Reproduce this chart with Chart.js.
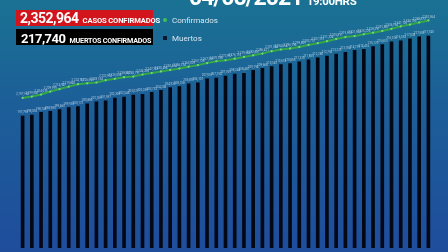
<!DOCTYPE html>
<html lang="es">
<head>
<meta charset="UTF-8">
<title>Casos y muertos confirmados</title>
<script src="https://cdn.jsdelivr.net/npm/chart.js@4.4.1/dist/chart.umd.min.js"></script>
<style>
    html, body { margin: 0; padding: 0; }
    body {
        width: 448px; height: 252px; overflow: hidden; position: relative;
        background: linear-gradient(to bottom, #1a7293 0%, #1c5f98 40%, #1f4d9c 100%);
        font-family: Roboto, "Liberation Sans", sans-serif;
    }
    #wrap { position: absolute; left: 0; top: 0; width: 448px; height: 252px; }
    .box { position: absolute; left: 16px; width: 137px; height: 16px; color: #fff; font-weight: bold; white-space: nowrap; }
    .box .big { font-size: 14px; letter-spacing: -0.5px; vertical-align: baseline; }
    .box .small { font-size: 7.6px; letter-spacing: -0.15px; }
    #casos { top: 10px; background: #d2141c; line-height: 16px; padding-left: 4px; box-sizing: border-box; }
    #muertos { top: 29px; background: #000; line-height: 17px; padding-left: 5px; box-sizing: border-box; }
    #muertos .big { font-size: 13px; }
    #muertos .small { font-size: 7.2px; letter-spacing: -0.2px; }
    .leg { position: absolute; left: 163px; font-size: 8px; color: #d7e6ef; white-space: nowrap; }
    .leg i { display: inline-block; width: 4px; height: 4px; margin-right: 5px; vertical-align: 1px; }
    #title { position: absolute; left: 189px; top: -16px; color: #fff; font-weight: bold; white-space: nowrap; }
    #title .d { font-size: 23px; letter-spacing: -0.9px; }
    #title .h { font-size: 11.5px; letter-spacing: -0.3px; }
</style>
</head>
<body>
<div id="wrap"><canvas id="myChart" width="448" height="252"></canvas></div>

<div id="title"><span class="d">04/05/2021</span> <span class="h">19:00HRS</span></div>
<div class="box" id="casos"><span class="big">2,352,964</span> <span class="small">CASOS CONFIRMADOS</span></div>
<div class="box" id="muertos"><span class="big">217,740</span> <span class="small">MUERTOS CONFIRMADOS</span></div>
<div class="leg" style="top:16px"><i style="background:#3fbf4f;border-radius:2px"></i>Confirmados</div>
<div class="leg" style="top:34px"><i style="background:#0a1630"></i>Muertos</div>

<script>
    // 45 dias, 21/03/2021 - 04/05/2021
    var dias = [];
    for (var i = 0; i < 45; i++) { dias.push("d" + (i + 1)); }

    var muertos = [197798, 198036, 198748, 198985, 199460, 199935, 200172, 200885, 201359, 201597,
        202309, 202546, 203021, 203259, 203733, 204208, 204920, 205158, 205870, 206107,
        207057, 207294, 207769, 208244, 208481, 209194, 209668, 210143, 210618, 210855,
        211330, 211805, 212280, 212755, 213229, 213704, 214179, 214416, 215129, 215603,
        216316, 216553, 217028, 217503, 217740];

    var confirmados = [2197160, 2199947, 2204039, 2209999, 2214947, 2219845, 2224767, 2226550, 2228154, 2232910,
        2235538, 2238887, 2240191, 2244268, 2247229, 2250458, 2253474, 2256374, 2260029, 2263128,
        2267309, 2270938, 2272997, 2276113, 2279585, 2282861, 2286421, 2291246, 2294614, 2296796,
        2299809, 2303712, 2307313, 2311324, 2315811, 2319519, 2321503, 2325226, 2328391, 2331867,
        2336194, 2341126, 2344755, 2348873, 2352964];

    // etiquetas pequeñitas encima de cada barra / punto
    var labelsPlugin = {
        id: 'tinyLabels',
        afterDatasetsDraw: function (chart) {
            var ctx = chart.ctx;
            ctx.save();
            ctx.font = '3px Roboto';
            ctx.fillStyle = 'rgba(225,238,250,0.7)';
            ctx.textAlign = 'center';
            ctx.textBaseline = 'bottom';
            chart.data.datasets.forEach(function (ds, di) {
                var meta = chart.getDatasetMeta(di);
                meta.data.forEach(function (el, idx) {
                    ctx.fillText(ds.data[idx].toLocaleString('en-US'), el.x, el.y - 2);
                });
            });
            ctx.restore();
        }
    };

    var config = {
        type: 'bar',
        data: {
            labels: dias,
            datasets: [{
                type: 'line',
                label: 'Confirmados',
                data: confirmados,
                yAxisID: 'y1',
                borderColor: '#34a846',
                borderWidth: 2,
                pointRadius: 1.1,
                pointBackgroundColor: '#7fd67c',
                pointBorderWidth: 0,
                tension: 0,
                order: 0
            }, {
                label: 'Muertos',
                data: muertos,
                yAxisID: 'y',
                backgroundColor: '#030816',
                barThickness: 3,
                order: 1
            }]
        },
        options: {
            responsive: false,
            animation: false,
            layout: { padding: { left: 18, right: 15, top: 0, bottom: 0 } },
            plugins: { legend: { display: false }, tooltip: { enabled: false } },
            scales: {
                x: { display: false, offset: true },
                y: { display: false, min: 165000, max: 225700 },
                y1: { display: false, min: 1895300, max: 2386100 }
            }
        },
        plugins: [labelsPlugin]
    };

    var ctx = document.getElementById("myChart").getContext("2d");
    new Chart(ctx, config);
</script>
</body>
</html>
